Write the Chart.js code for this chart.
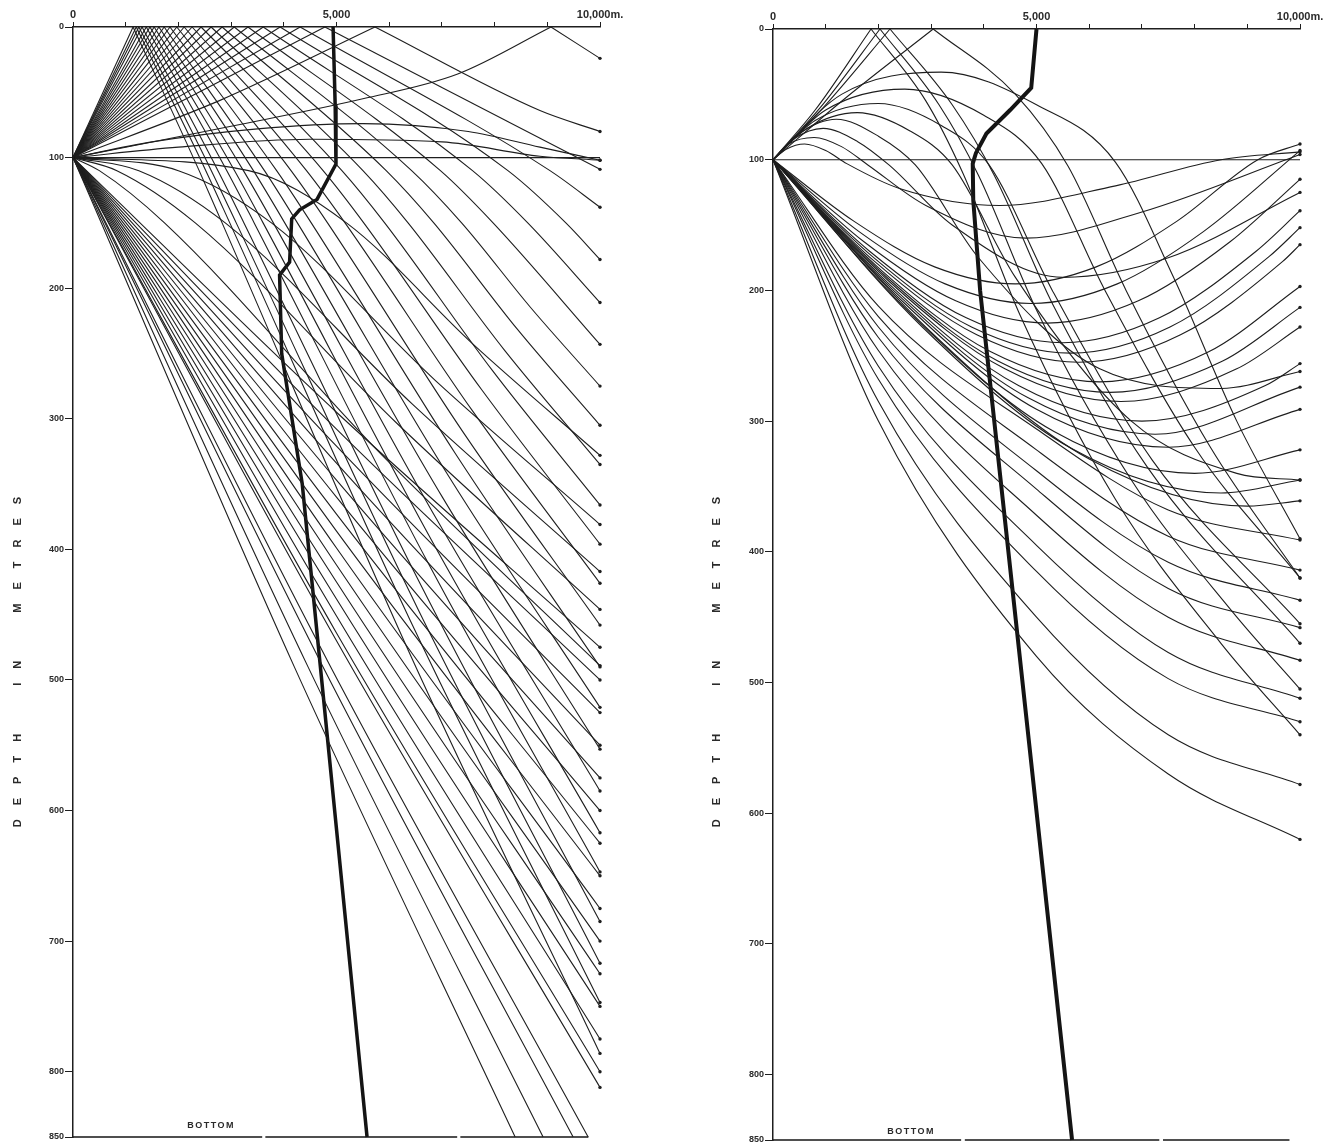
<!DOCTYPE html>
<html>
<head>
<meta charset="utf-8">
<script src="https://cdn.jsdelivr.net/npm/chart.js@4.4.1/dist/chart.umd.min.js"></script>
<style>
  body { margin: 0; background: #fff; }
  .panel { position: absolute; top: 0; width: 670px; height: 1148px; }
  #leftPanel { left: 0; }
  #rightPanel { left: 700px; }
</style>
</head>
<body>
<div class="panel" id="leftPanel"><canvas id="leftChart" width="670" height="1148"></canvas></div>
<div class="panel" id="rightPanel"><canvas id="rightChart" width="670" height="1148"></canvas></div>
<script>
// axis ticks
const xTicks = [0, 1000, 2000, 3000, 4000, 5000, 6000, 7000, 8000, 9000, 10000];
const xTickLabels = { 0: '0', 5000: '5,000', 10000: '10,000m.' };
const yTicks = [0, 100, 200, 300, 400, 500, 600, 700, 800, 850];

// left diagram: [range m, depth m]
const leftProfile = [[4935, 0], [4975, 60], [4990, 105], [4630, 132], [4300, 140], [4150, 147],
  [4110, 180], [3920, 190], [3960, 250], [4350, 350], [5580, 850]];

const leftSurfaceRays = [
  [[0, 100], [1140, 0], [2394, 110], [2829, 150], [6415, 482], [10000, 786]],
  [[0, 100], [1200, 0], [2520, 110], [2975, 150], [6488, 462], [10000, 747]],
  [[0, 100], [1250, 0], [2625, 110], [3097, 150], [6549, 446], [10000, 717]],
  [[0, 100], [1310, 0], [2751, 110], [3244, 150], [6622, 429], [10000, 685]],
  [[0, 100], [1390, 0], [2919, 110], [3438, 150], [6719, 409], [10000, 647]],
  [[0, 100], [1460, 0], [3066, 110], [3607, 150], [6804, 393], [10000, 617]],
  [[0, 100], [1540, 0], [3234, 110], [3801, 150], [6901, 377], [10000, 585]],
  [[0, 100], [1630, 0], [3423, 110], [4018, 150], [7009, 360], [10000, 553]],
  [[0, 100], [1730, 0], [3633, 110], [4258, 150], [7129, 344], [10000, 521]],
  [[0, 100], [1840, 0], [3864, 110], [4521, 150], [7261, 327], [10000, 490]],
  [[0, 100], [1970, 0], [4137, 110], [4830, 150], [7415, 311], [10000, 458]],
  [[0, 100], [2110, 0], [4431, 110], [5162, 150], [7581, 294], [10000, 426]],
  [[0, 100], [2260, 0], [4746, 110], [5517, 150], [7759, 278], [10000, 396]],
  [[0, 100], [2430, 0], [5103, 110], [5914, 150], [7957, 263], [10000, 366]],
  [[0, 100], [2620, 0], [5502, 110], [6358, 150], [8179, 247], [10000, 335]],
  [[0, 100], [2830, 0], [5943, 110], [6846, 150], [8423, 231], [10000, 305]],
  [[0, 100], [3060, 0], [6426, 110], [7374, 150], [8687, 215], [10000, 275]],
  [[0, 100], [3320, 0], [6972, 110], [7971, 150], [10000, 243]],
  [[0, 100], [3610, 0], [7581, 110], [8629, 150], [10000, 211]],
  [[0, 100], [3930, 0], [8253, 110], [9352, 150], [10000, 178]],
  [[0, 100], [4310, 0], [9051, 110], [10000, 138]],
  [[0, 100], [4780, 0], [10000, 109]],
  [[0, 100], [2800, 56], [5730, 0], [8860, 64], [10000, 80]],
  [[0, 100], [3000, 76], [5500, 55], [7300, 36], [9070, 0], [10000, 24]]
];

const leftDeepRays = [
  [[0, 100], [4200, 490], [8390, 850]],
  [[0, 100], [4460, 490], [8920, 850]],
  [[0, 100], [4745, 490], [9490, 850]],
  [[0, 100], [4890, 490], [9775, 850]],
  [[0, 100], [5000, 470], [10000, 812]],
  [[0, 100], [5000, 464], [10000, 800]],
  [[0, 100], [5000, 451], [10000, 775]],
  [[0, 100], [5000, 438], [10000, 750]],
  [[0, 100], [5000, 425], [10000, 725]],
  [[0, 100], [5000, 412], [10000, 700]],
  [[0, 100], [5000, 399], [10000, 675]],
  [[0, 100], [5000, 386], [10000, 650]],
  [[0, 100], [5000, 373], [10000, 625]],
  [[0, 100], [5000, 360], [10000, 600]],
  [[0, 100], [5000, 347], [10000, 575]],
  [[0, 100], [5000, 334], [10000, 550]],
  [[0, 100], [5000, 321], [10000, 525]],
  [[0, 100], [5000, 308], [10000, 500]],
  [[0, 100], [5000, 295], [10000, 475]],
  [[0, 100], [500, 110], [1736, 150], [5868, 328], [10000, 489]],
  [[0, 100], [833, 110], [2320, 150], [6160, 304], [10000, 446]],
  [[0, 100], [1250, 110], [2889, 150], [6445, 289], [10000, 417]],
  [[0, 100], [2000, 110], [3766, 150], [6883, 271], [10000, 381]],
  [[0, 100], [3333, 110], [5189, 150], [7595, 243], [10000, 328]]
];

const leftFlatRays = [
  [[0, 100], [10000, 100]],
  [[0, 100], [1500, 88], [3500, 78], [5500, 74], [7500, 80], [8860, 92], [10000, 102]],
  [[0, 100], [2000, 92], [4500, 86], [7000, 88], [8860, 99], [10000, 102]]
];

const leftBottom = [[[0, 850], [3590, 850]], [[3650, 850], [7290, 850]], [[7350, 850], [9780, 850]]];

// right diagram
const rightProfile = [[5000, 0], [4900, 45], [4500, 62], [4050, 80], [3850, 95], [3790, 103],
  [3800, 131], [3930, 200], [5675, 850]];

const rightSurfaceRays = [
  [[0, 100], [800, 62], [1860, 0], [2900, 55], [3600, 110], [4700, 220], [6500, 360], [8500, 470], [10000, 540]],
  [[0, 100], [900, 60], [2030, 0], [3150, 58], [3900, 112], [5000, 215], [6800, 345], [8700, 445], [10000, 505]],
  [[0, 100], [1000, 58], [2220, 0], [3400, 58], [4200, 112], [5300, 210], [7100, 335], [10000, 470]],
  [[0, 100], [1400, 52], [3040, 0], [4600, 50], [5600, 105], [6700, 200], [8300, 320], [10000, 420]]
];

const rightArchRays = [
  [[0, 100], [1300, 50], [3190, 33], [5000, 58], [6500, 102], [7600, 190], [8800, 300], [10000, 390]],
  [[0, 100], [1000, 62], [2500, 46], [4000, 66], [5100, 103], [6300, 200], [8000, 320], [10000, 420]],
  [[0, 100], [800, 70], [2000, 57], [3200, 74], [4100, 104], [5300, 200], [7200, 330], [10000, 455]],
  [[0, 100], [650, 76], [1600, 64], [2600, 78], [3400, 104], [4600, 190], [6800, 300], [8800, 340], [10000, 345]],
  [[0, 100], [500, 80], [1200, 69], [2000, 82], [2700, 104], [3900, 175], [6200, 260], [8500, 275], [10000, 262]],
  [[0, 100], [400, 84], [950, 76], [1600, 86], [2200, 104], [3400, 150], [5500, 190], [7500, 175], [10000, 125]],
  [[0, 100], [300, 88], [780, 83], [1300, 90], [1800, 104], [2900, 135], [4800, 160], [7000, 140], [10000, 96]],
  [[0, 100], [250, 92], [600, 88], [1000, 93], [1400, 103], [2400, 122], [4300, 135], [6500, 120], [8500, 100], [10000, 94]]
];

const rightTurnRays = [
  [[0, 100], [3000, 232], [6000, 329], [9000, 365], [10000, 361]],
  [[0, 100], [2833, 228], [5667, 321], [8500, 355], [10000, 345]],
  [[0, 100], [2667, 220], [5333, 308], [8000, 340], [10000, 322]],
  [[0, 100], [2500, 210], [5000, 291], [7500, 320], [10000, 291]],
  [[0, 100], [2417, 205], [4833, 282], [7250, 310], [10000, 274]],
  [[0, 100], [2333, 200], [4667, 273], [7000, 300], [9333, 273], [10000, 256]],
  [[0, 100], [2200, 193], [4400, 260], [6600, 285], [8800, 260], [10000, 228]],
  [[0, 100], [2133, 189], [4267, 254], [6400, 278], [8533, 254], [10000, 213]],
  [[0, 100], [2067, 185], [4133, 247], [6200, 270], [8267, 247], [10000, 197]],
  [[0, 100], [1933, 178], [3867, 234], [5800, 255], [7733, 234], [9667, 178], [10000, 165]],
  [[0, 100], [1883, 174], [3767, 228], [5650, 248], [7533, 228], [9417, 174], [10000, 152]],
  [[0, 100], [1833, 170], [3667, 221], [5500, 240], [7333, 221], [9167, 170], [10000, 139]],
  [[0, 100], [1733, 163], [3467, 208], [5200, 225], [6933, 208], [8667, 163], [10000, 115]],
  [[0, 100], [1633, 155], [3267, 195], [4900, 210], [6533, 195], [8167, 155], [10000, 93]],
  [[0, 100], [1533, 147], [3067, 182], [4600, 195], [6133, 182], [7667, 147], [9200, 100], [10000, 88]]
];

const rightDeepRays = [
  [[0, 100], [10000, 100]],
  [[0, 100], [2000, 300], [5000, 480], [7500, 570], [10000, 620]],
  [[0, 100], [2000, 285], [5000, 450], [7500, 540], [10000, 578]],
  [[0, 100], [2000, 268], [5000, 415], [7500, 497], [10000, 530]],
  [[0, 100], [2000, 258], [5000, 395], [7500, 477], [10000, 512]],
  [[0, 100], [2000, 246], [5000, 372], [7500, 450], [10000, 483]],
  [[0, 100], [2000, 236], [5000, 352], [7500, 428], [10000, 458]],
  [[0, 100], [2000, 228], [5000, 338], [7500, 408], [10000, 437]],
  [[0, 100], [2000, 220], [5000, 322], [7500, 388], [10000, 414]],
  [[0, 100], [2000, 212], [5000, 306], [7500, 368], [10000, 391]]
];

const rightBottom = [[[0, 850], [3570, 850]], [[3640, 850], [7330, 850]], [[7400, 850], [9800, 850]]];

const ink = '#1e1e1e';

// one ray -> one or two datasets (split at the surface bounce)
function rayDatasets(rays) {
  const sets = [];
  rays.forEach(ray => {
    const k = ray.findIndex((p, i) => i > 0 && i < ray.length - 1 && p[1] === 0);
    const parts = k > 0 ? [ray.slice(0, k + 1), ray.slice(k)] : [ray];
    parts.forEach((part, j) => {
      const last = part.length - 1;
      const dot = j === parts.length - 1 && part[last][0] === 10000 && part[last][1] !== 100;
      sets.push({
        data: part.map(p => ({ x: p[0], y: p[1] })),
        borderColor: ink,
        borderWidth: 1.1,
        cubicInterpolationMode: 'monotone',
        pointRadius: ctx => (dot && ctx.dataIndex === last ? 1.7 : 0),
        pointBackgroundColor: ink,
        pointBorderWidth: 0,
        clip: 6
      });
    });
  });
  return sets;
}

function plainLines(segments, width) {
  return segments.map(seg => ({
    data: seg.map(p => ({ x: p[0], y: p[1] })),
    borderColor: '#141414',
    borderWidth: width,
    pointRadius: 0,
    clip: 6
  }));
}

function textPlugin(titleX, bottomY) {
  return {
    id: 'panelText',
    afterDraw(chart) {
      const ctx = chart.ctx;
      const area = chart.chartArea;
      ctx.save();
      ctx.fillStyle = '#2a2a2a';
      ctx.font = 'bold 11px "Liberation Sans", Arial, sans-serif';
      ctx.letterSpacing = '14px';
      ctx.textAlign = 'center';
      ctx.textBaseline = 'middle';
      ctx.translate(titleX, 662);
      ctx.rotate(-Math.PI / 2);
      ctx.fillText('DEPTH  IN  METRES', 7, 0);
      ctx.restore();

      ctx.save();
      ctx.fillStyle = '#2a2a2a';
      ctx.font = 'bold 9px "Liberation Sans", Arial, sans-serif';
      ctx.letterSpacing = '1.5px';
      ctx.textAlign = 'center';
      ctx.textBaseline = 'middle';
      ctx.fillText('BOTTOM', chart.scales.x.getPixelForValue(2620), area.bottom - bottomY);
      ctx.restore();
    }
  };
}

function makeConfig(datasets, top, bottom, titleX, bottomY) {
  return {
    type: 'line',
    data: { datasets },
    options: {
      responsive: false,
      animation: false,
      layout: { padding: { left: 0, right: 70, top: 0, bottom: 1148 - bottom } },
      plugins: { legend: { display: false }, tooltip: { enabled: false } },
      scales: {
        x: {
          type: 'linear',
          position: 'top',
          min: 0,
          max: 10000,
          afterFit: s => { s.height = top; },
          afterBuildTicks: s => { s.ticks = xTicks.map(v => ({ value: v })); },
          ticks: {
            autoSkip: false,
            maxRotation: 0,
            padding: 0,
            color: '#2a2a2a',
            font: { family: '"Liberation Sans", Arial, sans-serif', size: 11, weight: 'bold' },
            callback: v => xTickLabels[v] || ''
          },
          grid: { drawOnChartArea: false, tickLength: 5, color: ink, lineWidth: 1 },
          border: { color: ink, width: 1.5 }
        },
        y: {
          type: 'linear',
          reverse: true,
          min: 0,
          max: 850,
          afterFit: s => { s.width = 73; },
          afterBuildTicks: s => { s.ticks = yTicks.map(v => ({ value: v })); },
          ticks: {
            padding: 1,
            color: '#2a2a2a',
            font: { family: '"Liberation Sans", Arial, sans-serif', size: 9, weight: 'bold' },
            callback: v => String(v)
          },
          grid: { drawOnChartArea: false, tickLength: 8, color: ink, lineWidth: 1 },
          border: { color: ink, width: 1.5 }
        }
      }
    },
    plugins: [textPlugin(titleX, bottomY)]
  };
}

const leftSets = [
  ...rayDatasets(leftSurfaceRays),
  ...rayDatasets(leftDeepRays),
  ...rayDatasets(leftFlatRays),
  ...plainLines(leftBottom, 1.5),
  ...plainLines([leftProfile], 3.5)
];

const rightSets = [
  ...rayDatasets(rightSurfaceRays),
  ...rayDatasets(rightArchRays),
  ...rayDatasets(rightTurnRays),
  ...rayDatasets(rightDeepRays),
  ...plainLines(rightBottom, 1.5),
  ...plainLines([rightProfile], 4)
];

const leftChart = new Chart(document.getElementById('leftChart'), makeConfig(leftSets, 27, 1137, 18, 11));
const rightChart = new Chart(document.getElementById('rightChart'), makeConfig(rightSets, 29, 1140, 17, 8));
</script>
</body>
</html>
